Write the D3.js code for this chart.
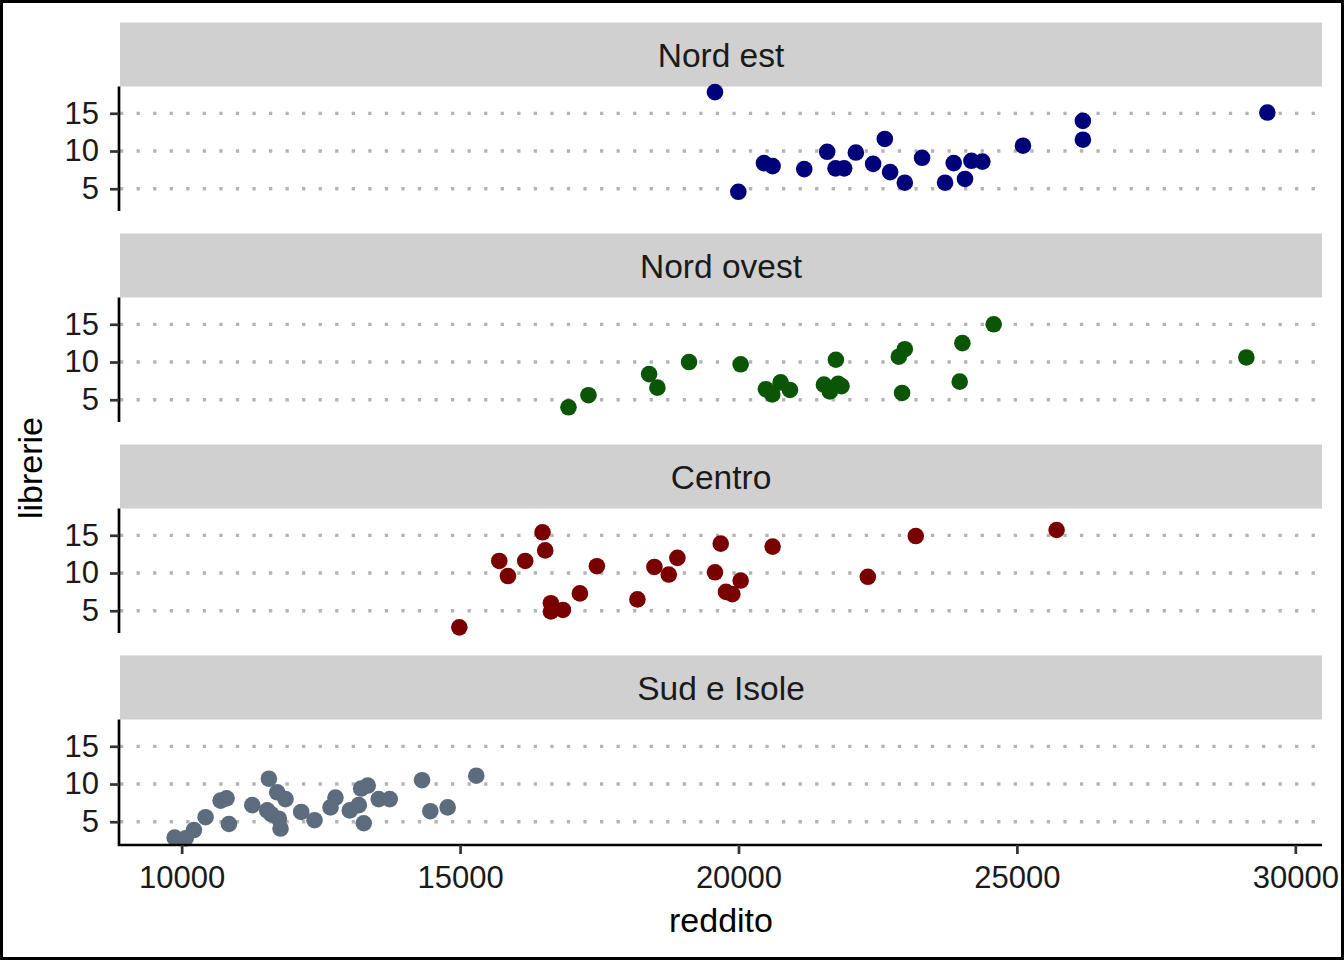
<!DOCTYPE html>
<html>
<head>
<meta charset="utf-8">
<script src="https://cdn.jsdelivr.net/npm/d3@7"></script>
<style>
  body { margin: 0; background: #fff; }
  text { font-family: "Liberation Sans", Arial, sans-serif; }
</style>
</head>
<body>
<svg id="chart" width="1344" height="960"></svg>
<script>
var regioni = ["Nord est", "Nord ovest", "Centro", "Sud e Isole"];
var colori = ["#00007a", "#0a5606", "#7a0000", "#5c6c7c"];
var yTicks = [5, 10, 15];
var xTicks = [10000, 15000, 20000, 25000, 30000];

var redditoNordEst = [19578, 19997, 20457, 20613, 21181, 21593, 21743, 21898, 22108, 22418, 22628, 22723,
    22987, 23297, 23710, 23865, 24068, 24183, 24380, 25109, 26185, 26185, 29498];
var librerieNordEst = [17.8, 4.6, 8.4, 8.0, 7.6, 9.9, 7.7, 7.7, 9.8, 8.3, 11.6, 7.2,
    5.8, 9.1, 5.8, 8.4, 6.3, 8.7, 8.6, 10.7, 14.0, 11.5, 15.1];

var redditoNordOvest = [16947, 17306, 18395, 18544, 19112, 20039, 20493, 20607, 20757, 20924, 21534, 21641,
    21790, 21850, 21749, 22879, 22987, 22938, 24021, 23973, 24583, 29121];
var librerieNordOvest = [4.0, 5.6, 8.4, 6.6, 10.0, 9.7, 6.4, 5.7, 7.3, 6.3, 7.0, 6.1,
    7.1, 6.8, 10.3, 10.7, 11.7, 5.9, 12.5, 7.4, 15.0, 10.6];

var redditoCentro = [14987, 15704, 15860, 16170, 16481, 16529, 16631, 16631, 16847, 17152, 17457, 18185,
    18490, 18748, 18903, 19578, 19681, 19776, 19889, 20039, 20613, 22323, 23184, 25713];
var librerieCentro = [2.8, 11.6, 9.6, 11.6, 15.4, 13.0, 6.0, 4.9, 5.1, 7.3, 10.9, 6.5,
    10.8, 9.8, 12.0, 10.1, 13.9, 7.5, 7.2, 9.0, 13.5, 9.5, 14.9, 15.7];

var redditoSud = [9874, 10072, 10221, 10430, 10700, 10807, 10849, 11268, 11566, 11537, 11608, 11716,
    11746, 11776, 11865, 12147, 12386, 12673, 12762, 13019, 13181, 13223, 13342, 13270,
    13539, 13737, 14317, 14466, 14777, 15291];
var librerieSud = [2.9, 2.8, 3.9, 5.6, 7.8, 8.1, 4.7, 7.2, 10.7, 6.5, 6.0, 8.9,
    5.4, 4.1, 8.0, 6.3, 5.2, 6.9, 8.2, 6.5, 7.2, 9.4, 9.8, 4.8,
    8.0, 8.0, 10.5, 6.4, 6.9, 11.1];

var redditi = [redditoNordEst, redditoNordOvest, redditoCentro, redditoSud];
var librerie = [librerieNordEst, librerieNordOvest, librerieCentro, librerieSud];

var dati = [];
regioni.forEach(function (r, i) {
    redditi[i].forEach(function (v, j) {
        dati.push({regione: r, reddito: v, librerie: librerie[i][j]});
    });
});

var svg = d3.select("#chart");
var W = 1344, H = 960;
var left = 120, right = 1322;
var top0 = 22.5, stripH = 64, panelH = 124.5, gap = 22.5;

svg.append("rect")
    .attr("x", 1.5).attr("y", 1.5)
    .attr("width", W - 3).attr("height", H - 3)
    .style("fill", "#fff")
    .style("stroke", "#000")
    .style("stroke-width", 3);

// ggplot style 5% expansion
function expand(ext) {
    var d = (ext[1] - ext[0]) * 0.05;
    return [ext[0] - d, ext[1] + d];
}

var x = d3.scaleLinear()
    .domain(expand(d3.extent(dati, function (d) { return d.reddito; })))
    .range([left, right]);

var yDomain = expand(d3.extent(dati, function (d) { return d.librerie; }));

regioni.forEach(function (reg, i) {
    var stripTop = top0 + i * (stripH + panelH + gap);
    var pTop = stripTop + stripH;
    var pBot = pTop + panelH;

    var y = d3.scaleLinear()
        .domain(yDomain)
        .range([pBot, pTop]);

    var g = svg.append("g");

    g.append("rect")
        .attr("x", left).attr("y", stripTop)
        .attr("width", right - left).attr("height", stripH)
        .style("fill", "#d0d0d0");

    g.append("text")
        .attr("x", (left + right) / 2)
        .attr("y", stripTop + stripH / 2 + 12)
        .attr("text-anchor", "middle")
        .style("font-size", "33.5px")
        .style("fill", "#1a1a1a")
        .text(reg);

    g.selectAll(".grid")
        .data(yTicks)
        .enter()
        .append("line")
        .attr("x1", left).attr("x2", right)
        .attr("y1", function (d) { return y(d); })
        .attr("y2", function (d) { return y(d); })
        .style("stroke", "#b4b4b4")
        .style("stroke-width", 3.3)
        .style("stroke-dasharray", "3.3,13.25");

    g.selectAll(".dot")
        .data(dati.filter(function (d) { return d.regione === reg; }))
        .enter()
        .append("circle")
        .attr("cx", function (d) { return x(d.reddito); })
        .attr("cy", function (d) { return y(d.librerie); })
        .attr("r", 8.3)
        .style("fill", colori[i]);

    var ya = g.append("g")
        .attr("transform", "translate(" + (left - 1) + ",0)")
        .call(d3.axisLeft(y).tickValues(yTicks).tickSize(9).tickPadding(11));
    ya.select(".domain")
        .attr("d", "M0," + pTop + "V" + pBot)
        .style("stroke", "#000")
        .style("stroke-width", 2.7);
    ya.selectAll(".tick line").style("stroke", "#333").style("stroke-width", 2.7);
    ya.selectAll(".tick text")
        .style("font-size", "31px")
        .style("fill", "#1a1a1a")
        .style("font-family", "Liberation Sans, Arial, sans-serif");

    if (i === regioni.length - 1) {
        var xa = g.append("g")
            .attr("transform", "translate(0," + (pBot + 1) + ")")
            .call(d3.axisBottom(x).tickValues(xTicks).tickFormat(d3.format("d")).tickSize(9).tickPadding(12));
        xa.select(".domain")
            .attr("d", "M" + (left - 2.3) + ",0H" + right)
            .style("stroke", "#000")
            .style("stroke-width", 2.7);
        xa.selectAll(".tick line").style("stroke", "#333").style("stroke-width", 2.7);
        xa.selectAll(".tick text")
            .style("font-size", "31px")
            .style("fill", "#1a1a1a")
            .style("font-family", "Liberation Sans, Arial, sans-serif");
    }
});

svg.append("text")
    .attr("x", (left + right) / 2)
    .attr("y", 932)
    .attr("text-anchor", "middle")
    .style("font-size", "34px")
    .style("fill", "#000")
    .text("reddito");

svg.append("text")
    .attr("transform", "translate(42,468) rotate(-90)")
    .attr("text-anchor", "middle")
    .style("font-size", "34px")
    .style("fill", "#000")
    .text("librerie");
</script>
</body>
</html>
